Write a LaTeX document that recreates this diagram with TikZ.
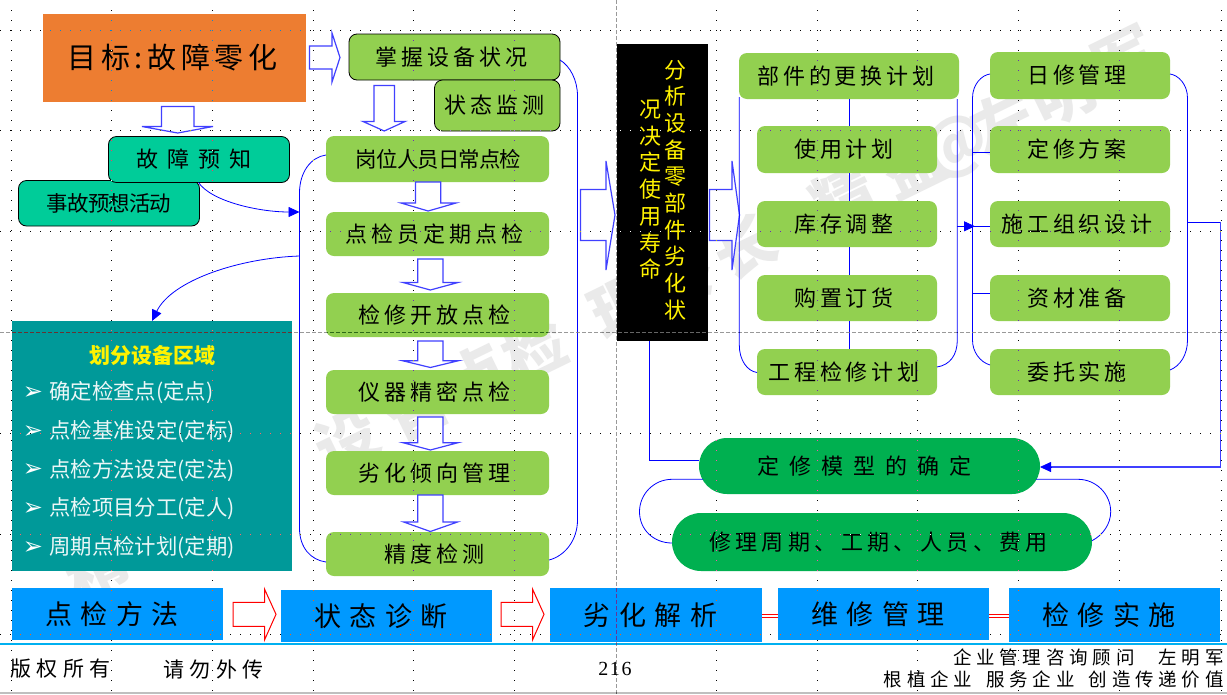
\documentclass[tikz,border=0pt]{standalone}
\usepackage{fontspec}
\usetikzlibrary{arrows.meta,calc}
\setmainfont{Noto Sans CJK SC}
\newfontfamily\djv{DejaVu Sans}
\newfontfamily\lser{Liberation Serif}
\newcommand{\tfont}[2]{\fontsize{#1}{#1}\selectfont\addfontfeature{LetterSpace=#2}}
\definecolor{gbox}{HTML}{92D050}
\definecolor{tbox}{HTML}{00CC99}
\definecolor{oval}{HTML}{00B050}
\definecolor{teal2}{HTML}{009999}
\definecolor{bbox}{HTML}{0099FF}
\definecolor{orng}{HTML}{ED7D31}
\definecolor{wm}{HTML}{EAEAEA}
\definecolor{arr}{HTML}{4040FF}
\definecolor{rule1}{HTML}{00B0F0}
\tikzset{
 base/.style={rectangle,inner sep=0pt,outer sep=0pt,anchor=north west},
 trail/.style={execute at end node={\hspace{#1}}},
 gb/.style={base,fill=gbox,rounded corners=8pt,font=\tfont{22}{18},trail=6pt},
 gbd/.style={gb,draw=black,line width=0.8pt},
 tb/.style={base,fill=tbox,draw=black,line width=0.8pt,rounded corners=8pt},
 ov/.style={base,fill=oval,font=\tfont{22}{20}},
 bb/.style={base,fill=bbox,font=\tfont{27}{32},trail=11pt},
 conn/.style={draw=blue,line width=0.8pt},
 conna/.style={conn,-{Triangle[length=11pt,width=10pt]}},
 block/.style={draw=arr,fill=white,line width=1.2pt,line join=miter},
 rblock/.style={draw=red,fill=white,line width=1pt,line join=miter},
 dbl/.style={draw=red,double=white,double distance=1.5pt,line width=1.5pt},
 wmk/.style={text=wm,font=\bfseries\fontsize{62}{62}\selectfont,rotate=26,inner sep=0pt},
 item/.style={inner sep=0pt,anchor=west,text=white!92!teal2,font=\tfont{21.4}{0}},
 bul/.style={inner sep=0pt,text=white,font=\djv\fontsize{24}{24}\selectfont},
 foot/.style={inner sep=0pt,font=\tfont{21}{26}},
 griddot/.style={white,line width=1pt,dash pattern=on 1pt off 9pt},
 guide/.style={color=black!60,line width=1pt,dash pattern=on 4pt off 2pt}
}
\newcommand{\dnblock}[7]{\draw[block] (#1,#5)--(#2,#5)--(#2,#6)--(#4,#6)--({(#1+#2)/2},#7)--(#3,#6)--(#1,#6)--cycle;}
\newcommand{\rtblock}[8][block]{\draw[#1] (#2,#5)--(#3,#5)--(#3,#7)--(#4,{(#5+#6)/2})--(#3,#8)--(#3,#6)--(#2,#6)--cycle;}
\begin{document}
\begin{tikzpicture}[x=1pt,y=-1pt]
\useasboundingbox (0,0) rectangle (1227,694);
\fill[white] (0,0) rectangle (1227,694);
% watermark
\foreach \cx/\cy/\ch in {95/565/精,160/533/益,347/441/设,417/407/备,477/377/点,535/349/检,622/306/理,685/275/专,745/246/长,843/198/精,913/165/益,957/147/@,1003/122/左,1063/95/明,1125/60/军}
  \node[wmk] (w\cx) at (\cx,\cy) {\ch};
% boxes
\node[base,fill=orng,minimum width=263pt,minimum height=88pt,font=\tfont{29}{16},trail=4pt] (goal) at (43,14) {目标:故障零化};
\node[gbd,minimum width=211pt,minimum height=46pt] (grasp) at (349,34) {掌握设备状况};
\node[gbd,minimum width=125.5pt,minimum height=51pt] (mon) at (434.5,80) {状态监测};
\node[tb,minimum width=181pt,minimum height=45.5pt,font=\tfont{21.4}{-4}] (acc) at (18.5,180.5) {事故预想活动};
\node[tb,minimum width=181pt,minimum height=46pt,font=\tfont{22}{41},trail=10pt] (fore) at (108.5,136.5) {故障预知};
\node[gb,minimum width=223pt,minimum height=46pt,font=\tfont{21.4}{-4},trail=-8pt] (a1) at (326,136) {岗位人员日常点检};
\node[gb,minimum width=223pt,minimum height=44pt] (a2) at (326,212) {点检员定期点检};
\node[gb,minimum width=223pt,minimum height=44pt] (a3) at (326,293) {检修开放点检};
\node[gb,minimum width=223pt,minimum height=44pt] (a4) at (326,370) {仪器精密点检};
\node[gb,minimum width=223pt,minimum height=44pt] (a5) at (326,451) {劣化倾向管理};
\node[gb,minimum width=223pt,minimum height=44pt] (a6) at (326,532) {精度检测};
\node[base,fill=black,minimum width=91pt,minimum height=297pt] (blk) at (617,44) {};
\node[inner sep=0pt,text=yellow,align=center,anchor=north,font=\fontsize{22}{26.67}\selectfont] (blkr) at (675.7,60) {分\\析\\设\\备\\零\\部\\件\\劣\\化\\状};
\node[inner sep=0pt,text=yellow,align=center,anchor=north,font=\fontsize{22}{26.67}\selectfont] (blkl) at (650.7,100) {况\\决\\定\\使\\用\\寿\\命};
\node[gb,minimum width=220pt,minimum height=46pt] (b1) at (739,53) {部件的更换计划};
\node[gb,minimum width=180pt,minimum height=47pt] (b2) at (757,126) {使用计划};
\node[gb,minimum width=180pt,minimum height=46pt] (b3) at (757,201) {库存调整};
\node[gb,minimum width=180pt,minimum height=46pt] (b4) at (757,275) {购置订货};
\node[gb,minimum width=180pt,minimum height=46pt] (b5) at (757,349) {工程检修计划};
\node[gb,minimum width=180pt,minimum height=47pt] (c1) at (990,52) {日修管理};
\node[gb,minimum width=180pt,minimum height=47pt] (c2) at (990,126) {定修方案};
\node[gb,minimum width=180pt,minimum height=46pt] (c3) at (990,201) {施工组织设计};
\node[gb,minimum width=180pt,minimum height=46pt] (c4) at (990,275) {资材准备};
\node[gb,minimum width=180pt,minimum height=46pt] (c5) at (990,349) {委托实施};
\node[ov,rounded corners=28pt,minimum width=341pt,minimum height=56pt,font=\tfont{22}{45},trail=10pt] (o1) at (699,438) {定修模型的确定};
\node[ov,rounded corners=29pt,minimum width=420pt,minimum height=58pt,trail=7pt] (o2) at (672,513) {修理周期、工期、人员、费用};
\node[base,fill=teal2,minimum width=280pt,minimum height=250pt] (area) at (12,321) {};
\node[inner sep=0pt,text=yellow,font=\bfseries\fontsize{21}{21}\selectfont] (areat) at (152,355) {划分设备区域};
\foreach \n/\yy/\tx in {1/393/确定检查点(定点),2/432/点检基准设定(定标),3/470.5/点检方法设定(定法),4/509/点检项目分工(定人),5/548/周期点检计划(定期)}{
  \node[bul] (bu\n) at (33,\yy) {➢};
  \node[item] (it\n) at (49,\yy) {\tx};
}
\node[bb,minimum width=211pt,minimum height=52pt] (f1) at (12,588) {点检方法};
\node[bb,minimum width=211pt,minimum height=52pt] (f2) at (281,590) {状态诊断};
\node[bb,minimum width=212pt,minimum height=54pt] (f3) at (550,588) {劣化解析};
\node[bb,minimum width=211pt,minimum height=52pt] (f4) at (778,588) {维修管理};
\node[bb,minimum width=211pt,minimum height=54pt] (f5) at (1009,588) {检修实施};
% block arrows
\rtblock{309.5}{332}{340}{46}{69}{33}{82}
\dnblock{161.5}{194}{142}{213}{106.5}{126.5}{133}
\dnblock{374}{394.5}{363}{405}{85.5}{121.5}{131}
\dnblock{415.5}{440.7}{401}{456}{182}{203}{211}
\dnblock{417.7}{443}{403}{458}{259}{282.5}{290}
\dnblock{417.7}{443}{402.5}{458.5}{341}{360.7}{367.5}
\dnblock{417.7}{443}{403}{458}{417}{442.7}{450}
\dnblock{417.7}{443}{403.7}{457.5}{495}{522}{531.5}
\rtblock{580.5}{606}{615}{189.5}{240.5}{161}{270}
\rtblock{709.5}{732}{739.5}{189.5}{240.5}{161}{270}
\rtblock[rblock]{233}{264.5}{276}{602.3}{626.3}{589}{640}
\rtblock[rblock]{501}{532.5}{544}{602.3}{626.3}{589}{640}
% bend points
\coordinate (la) at (299.5,193);
\coordinate (lb) at (299.5,528);
\coordinate (ra) at (577.5,96);
\coordinate (rb) at (577.5,520);
\coordinate (lc) at (739.3,345);
\coordinate (rc) at (957.3,340);
\coordinate (ld) at (972.5,98);
\coordinate (le) at (972.5,340);
\coordinate (rd) at (1187.5,98);
\coordinate (re) at (1187.5,340);
\coordinate (br1) at (299.5,212);
\coordinate (br2) at (299.5,256);
\coordinate (out) at (1187.5,222);
\coordinate (outc) at (1220.5,222);
\coordinate (top) at (152,321);
% connectors
\draw[conn] ([shift={(0,-4)}]a1.west) .. controls (311,157) and (299.5,172) .. (la) -- (lb) .. controls (299.5,548) and (311,560) .. ([shift={(0,8)}]a6.west);
\draw[conna] ([shift={(-0.5,0)}]fore.south) .. controls (212,202) and (260,212) .. (br1);
\draw[conna] (br2) .. controls (240,258) and (172,280) .. (top);
\draw[conn] ([shift={(0,3)}]grasp.east) .. controls (570,66) and (577.5,80) .. (ra) -- (rb) .. controls (577.5,540) and (565,556) .. ([shift={(0,6)}]a6.east);
\draw[conn] ([shift={(-13,0)}]blk.south) -- (649.5,460.3) -- ([shift={(0,-5.7)}]o1.west);
\draw[conn] (b1.south) -- ([shift={(2,0)}]b2.north);
\draw[conn] ([shift={(2,0)}]b2.south) -- ([shift={(2,0)}]b3.north);
\draw[conn] ([shift={(2,0)}]b3.south) -- ([shift={(2,0)}]b4.north);
\draw[conn] ([shift={(2,0)}]b4.south) -- ([shift={(2,0)}]b5.north);
\draw[conn] (739.3,97) -- (lc) .. controls (739.3,360) and (747,371) .. ([shift={(0,0.5)}]b5.west);
\draw[conn] (rc |- b1.south) -- (rc) .. controls (957.3,355) and (950,365) .. ([shift={(0,-5)}]b5.east);
\draw[conna] (957.3,226.3) -- (975,226.3);
\draw[conn] (972.5,226.3) -- ([shift={(0,2.3)}]c3.west);
\draw[conn] ([shift={(0,-1.5)}]c1.west) .. controls (982,75) and (972.5,84) .. (ld) -- (le) .. controls (972.5,352) and (980,362) .. ([shift={(0,-7)}]c5.west);
\draw[conn] (972.5,152.3) -- ([shift={(0,2.8)}]c2.west);
\draw[conn] (972.5,293.3) -- ([shift={(0,-4.7)}]c4.west);
\draw[conn] ([shift={(0,-1.5)}]c1.east) .. controls (1178,75) and (1187.5,84) .. (rd) -- (re) .. controls (1187.5,355) and (1180,366) .. ([shift={(0,-2)}]c5.east);
\draw[conn] (out) -- (outc);
\draw[draw=arr,line width=1.2pt] (outc) -- (1220.5,467) -- (1050,467);
\draw[conna] (1052,467) -- ([shift={(0,1)}]o1.east);
\draw[conn] (703,479.3) -- (672,479.3) .. controls (654,479.3) and (639.5,494) .. (639.5,511.7) .. controls (639.5,530) and (654,543) .. ([shift={(0,1)}]o2.west);
\draw[conn] (1036,479.3) -- (1078,479.3) .. controls (1096,479.3) and (1110.7,494) .. (1110.7,511.7) .. controls (1110.7,524) and (1103,535) .. ([shift={(0,-1.3)}]o2.east);
\draw[dbl] ([shift={(0,1)}]f3.east) -- ([shift={(0,2)}]f4.west);
\draw[dbl] ([shift={(0,2)}]f4.east) -- ([shift={(0,1)}]f5.west);
% rules
\draw[rule1,line width=2pt] (0,643.5) -- (1227,643.5);
\draw[black!25,line width=2pt] (0,692.5) -- (1227,692.5);
% footer text
\node[foot,anchor=west] (ft1) at (10,669) {版权所有};
\node[foot,anchor=west] (ft2) at (163,669) {请勿外传};
\node[inner sep=0pt,font=\lser\fontsize{20}{20}\selectfont\addfontfeature{LetterSpace=8}] (pg) at (615,669) {216};
\node[inner sep=0pt,anchor=east,font=\tfont{18.5}{26}] (ft3) at (1224,657) {企业管理咨询顾问\hspace{24pt}左明军};
\node[inner sep=0pt,anchor=east,font=\tfont{18.5}{26}] (ft4) at (1224,679) {根植企业\hspace{14pt}服务企业\hspace{14pt}创造传递价值};
% guide grid
\begin{scope}[blend mode=difference]
\foreach \gy in {30,130,231,433,534,634} \draw[griddot] (0,\gy) -- (1227,\gy);
\foreach \gx in {11,111,212,313,413,514,716,817,917,1018,1119,1221} \draw[griddot] (\gx,10) -- (\gx,694);
\draw[guide] (0,332) -- (1227,332);
\draw[guide] (616,0) -- (616,694);
\end{scope}
\end{tikzpicture}
\end{document}
